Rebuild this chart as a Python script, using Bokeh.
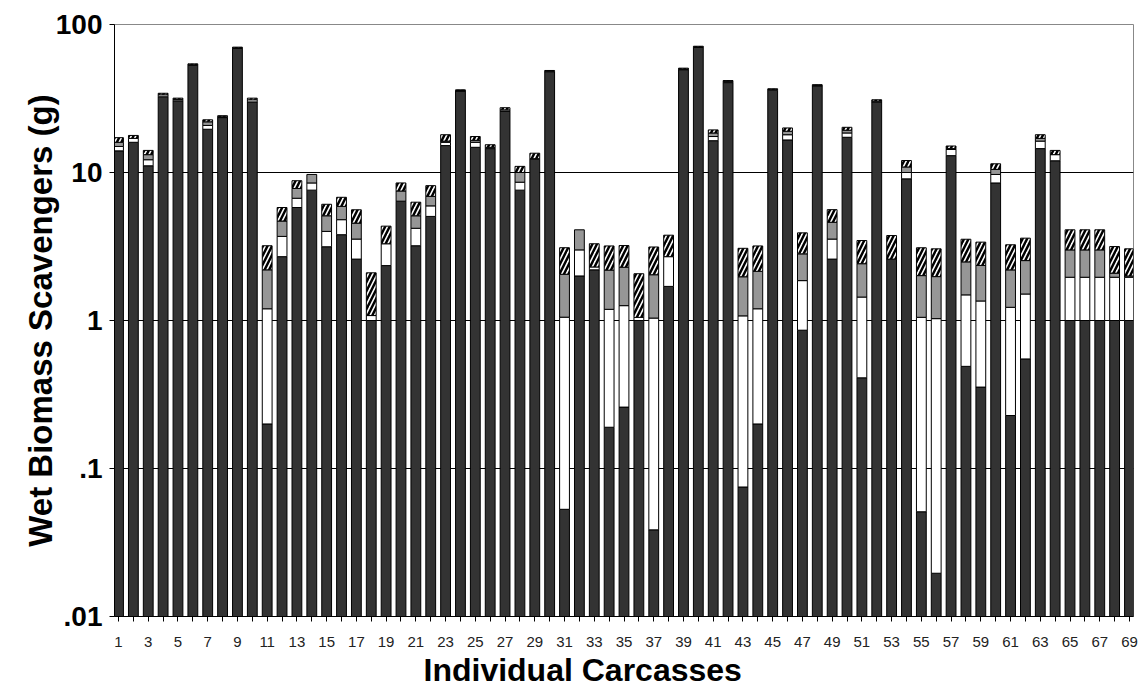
import numpy as np
from bokeh.plotting import figure
from bokeh.models import ColumnDataSource, FixedTicker, Title
from bokeh.embed import file_html
from bokeh.resources import INLINE

carcasses = list(range(1, 70))

# segment amounts (g) per carcass, stacked bottom -> top
dark = [14, 16, 11.1, 32.5, 30.5, 53, 19.6, 23.5, 69, 30,
        0.2, 2.7, 5.8, 7.6, 3.15, 3.8, 2.6, 1.0, 2.35, 6.4,
        3.2, 5.05, 15.2, 35.5, 14.8, 14.5, 26, 7.6, 12.3, 48,
        0.053, 2.0, 2.2, 0.19, 0.26, 1.0, 0.0385, 1.7, 49.5, 70,
        16.4, 40.5, 0.075, 0.2, 36, 16.6, 0.86, 38.5, 2.6, 17.3,
        0.41, 30, 2.6, 9.06, 0.051, 0.0196, 13, 0.49, 0.355, 8.5,
        0.228, 0.55, 14.5, 12, 1.0, 1.0, 1.0, 1.0, 1.0]
white = [1, 1, 1.1, 1, 0.7, 0.5, 1.2, 0.3, 0.5, 1,
         1, 1, 0.9, 0.9, 0.85, 1, 0.95, 0.08, 0.95, 0,
         1, 0.9, 0.8, 0.3, 1.2, 0.3, 0.5, 1, 0.1, 0.3,
         1, 1, 0.1, 1, 1, 0.05, 1, 1, 0.5, 0.5,
         1.1, 0.8, 1, 1, 0.3, 1.4, 1, 0.3, 0.95, 1.2,
         1.03, 0.4, 0, 0.94, 1, 1.01, 1.3, 1, 1, 1.2,
         1, 0.96, 1.8, 1.2, 0.96, 0.96, 0.96, 0.96, 0.96]
gray = [1, 0, 1, 0, 0, 0, 1.2, 0, 0, 0,
        1, 1, 1.1, 1.2, 1.1, 1.1, 1, 0, 0, 1.1,
        0.9, 0.95, 0.3, 0, 0.5, 0, 0, 1.4, 0, 0,
        1, 1.1, 0, 1, 1.03, 0, 1, 0, 0, 0,
        1, 0, 0.9, 0.95, 0, 1, 0.96, 0, 1.06, 0.8,
        0.98, 0, 0, 0.9, 0.96, 0.95, 0.2, 1, 1, 0.8,
        0.97, 1.03, 0.7, 0, 1.04, 1.04, 1.04, 0.13, 0.04]
hatched = [1.2, 0.8, 0.9, 0.8, 0.6, 0.7, 0.7, 0.4, 0.8, 0.8,
           1, 1.1, 1, 0, 1, 0.9, 1.05, 1.02, 1.04, 1,
           1.2, 1.25, 1.7, 0.4, 1, 0.6, 0.9, 1, 1.1, 0.6,
           1.05, 0, 1, 1, 0.92, 1.02, 1.1, 1.07, 0.7, 0.8,
           0.9, 0.5, 1.1, 1.04, 0.5, 1, 1.09, 0.4, 1, 0.9,
           1.05, 0.6, 1.15, 1.15, 1.09, 1.07, 0.6, 1.05, 1.03, 0.95,
           1.05, 1.06, 1, 0.9, 1.1, 1.1, 1.1, 1.07, 1.05]

y_ticks = [0.01, 0.1, 1, 10, 100]
y_tick_labels = [".01", ".1", "1", "10", "100"]
x_title = "Individual Carcasses"
y_title = "Wet Biomass Scavengers (g)"

FONT = "Liberation Sans"

p = figure(width=1148, height=694, y_axis_type="log",
           x_range=(0.73, 69.27), y_range=(0.01, 100),
           output_backend="svg", toolbar_location=None,
           min_border_left=114, min_border_right=15,
           min_border_top=24, min_border_bottom=78)

base = 0.01
segments = [(dark, dict(fill_color="#333333")),
            (white, dict(fill_color="white")),
            (gray, dict(fill_color="#969696")),
            (hatched, dict(fill_color="white", hatch_pattern="/",
                           hatch_color="black", hatch_weight=2.5,
                           hatch_scale=9))]
bottoms = np.full(len(carcasses), 0.0)
for vals, style in segments:
    vals = np.array(vals, dtype=float)
    tops = bottoms + vals
    mask = vals > 0
    b = np.where(bottoms > 0, bottoms, base)
    src = ColumnDataSource(dict(x=np.array(carcasses)[mask],
                                bottom=b[mask], top=tops[mask]))
    p.vbar(x="x", bottom="bottom", top="top", width=0.66, source=src,
           line_color="black", line_width=1, **style)
    bottoms = tops

# axes
p.yaxis.ticker = FixedTicker(ticks=y_ticks)
p.yaxis.major_label_overrides = {t: l for t, l in zip(y_ticks, y_tick_labels)}
p.yaxis.minor_tick_line_color = None
p.yaxis.major_tick_out = 5
p.yaxis.major_tick_in = 0
p.yaxis.major_label_standoff = 7
p.yaxis.major_label_text_font = FONT
p.yaxis.major_label_text_font_style = "bold"
p.yaxis.major_label_text_font_size = "28px"
p.yaxis.major_label_text_color = "black"
p.yaxis.axis_label = y_title
p.yaxis.axis_label_text_font = FONT
p.yaxis.axis_label_text_font_style = "bold"
p.yaxis.axis_label_text_font_size = "33px"
p.yaxis.axis_label_text_color = "black"
p.yaxis.axis_label_standoff = -6
p.yaxis.axis_line_color = "black"

p.xaxis.ticker = FixedTicker(ticks=carcasses)
p.xaxis.major_label_overrides = {c: ("" if c % 2 == 0 else str(c)) for c in carcasses}
p.xaxis.minor_tick_line_color = None
p.xaxis.major_tick_out = 5
p.xaxis.major_tick_in = 0
p.xaxis.major_label_standoff = 15
p.xaxis.major_label_text_font = FONT
p.xaxis.major_label_text_font_size = "15px"
p.xaxis.major_label_text_color = "#222222"
p.xaxis.axis_line_color = "black"

# x title, left of centre as in the reference
p.add_layout(Title(text=x_title, align="left", offset=309, standoff=0,
                   text_font=FONT, text_font_style="bold",
                   text_font_size="32px", text_color="black"), "below")

p.xgrid.visible = False
p.ygrid.ticker = FixedTicker(ticks=y_ticks)
p.ygrid.grid_line_color = "black"
p.ygrid.grid_line_width = 1
p.outline_line_color = "#888888"
p.background_fill_color = "white"
p.border_fill_color = "white"

open("out.html", "w").write(file_html(p, INLINE))
